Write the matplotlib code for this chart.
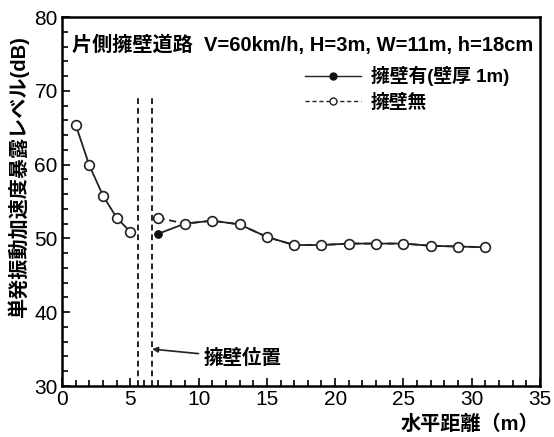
import numpy as np
import matplotlib
matplotlib.use('Agg')
import matplotlib.pyplot as plt
from matplotlib.ticker import MultipleLocator

plt.rcParams['font.family'] = ['Liberation Sans', 'Noto Sans CJK JP']

# data
x_left = [1, 2, 3, 4, 5]
y_left = [65.4, 59.9, 55.8, 52.8, 50.9]

x_right = [7, 9, 11, 13, 15, 17, 19, 21, 23, 25, 27, 29, 31]
y_wall = [50.6, 52.0, 52.4, 51.9, 50.2, 49.1, 49.1, 49.3, 49.3, 49.3, 49.0, 48.9, 48.8]
y_nowall = [52.8, 52.0, 52.4, 51.9, 50.2, 49.1, 49.1, 49.3, 49.3, 49.3, 49.0, 48.9, 48.8]

wall_edges = [5.6, 6.6]
wall_label_pos = (10.4, 33.8)
wall_arrow_pos = (6.6, 35.0)

title_text = '片側擁壁道路  V=60km/h, H=3m, W=11m, h=18cm'

W, H = 554, 437
fig = plt.figure(figsize=(W / 100, H / 100), dpi=100)
ax = fig.add_axes([62 / W, 1 - 386 / H, (540 - 62) / W, (386 - 17) / H])

c = '#222222'
# wall present (solid, filled dot)
ax.plot(x_left, y_left, '-', color=c, lw=1.3, zorder=3)
ax.plot(x_right, y_wall, '-', color=c, lw=1.3, marker='o', ms=5,
        mfc='#111111', mec='#111111', zorder=3)
# no wall (dashed, open circle)
ax.plot(x_left, y_left, 'o', ms=7, mfc='white', mec=c, mew=1.2, zorder=4)
ax.plot(x_right, y_nowall, '--', color=c, lw=1.3, marker='o', ms=7,
        mfc='white', mec=c, mew=1.2, zorder=4, dashes=(4, 2.5))
ax.plot(x_right[0], y_wall[0], 'o', ms=5, color='#111111', zorder=5)

# legend handles
h1, = ax.plot([], [], '-', color=c, lw=1.0, marker='o', ms=5,
              mfc='#111111', mec='#111111')
h2, = ax.plot([], [], '--', color=c, lw=1.0, marker='o', ms=5,
              mfc='white', mec=c, dashes=(3, 2))

for xe in wall_edges:
    ax.plot([xe, xe], [30, 69], color=c, lw=1.4, ls=(0, (3, 2)), zorder=2)

ax.annotate('擁壁位置', xy=wall_arrow_pos, xytext=wall_label_pos,
            fontsize=14, fontweight='bold', va='center', ha='left',
            arrowprops=dict(arrowstyle='-|>', color=c, lw=1.2,
                            mutation_scale=8, shrinkA=2, shrinkB=0))

fig.text(72 / W, 1 - 45 / H, title_text, fontsize=14.5, fontweight='bold',
         va='center', ha='left')

ax.set_xlim(0, 35)
ax.set_ylim(30, 80)
ax.xaxis.set_major_locator(MultipleLocator(5))
ax.xaxis.set_minor_locator(MultipleLocator(1))
ax.yaxis.set_major_locator(MultipleLocator(10))
ax.yaxis.set_minor_locator(MultipleLocator(2))
ax.tick_params(which='both', direction='in', top=False, right=False,
               labelsize=15, width=1.2)
ax.tick_params(which='major', length=6, pad=3)
ax.tick_params(which='minor', length=4)
for sp in ax.spines.values():
    sp.set_linewidth(1.8)

fig.text(18 / W, 1 - 177 / H, '単発振動加速度暴露レベル(dB)', fontsize=14.5,
         fontweight='bold', rotation=90, va='center', ha='center')
fig.text(470 / W, 1 - 424 / H, '水平距離（m）', fontsize=14.5,
         fontweight='bold', va='center', ha='center')

leg = fig.legend([h1, h2], ['擁壁有(壁厚 1m)', '擁壁無'], loc='upper left',
                 bbox_to_anchor=(305 / W, 1 - 66 / H), frameon=False,
                 fontsize=13.5, handlelength=3.0, handletextpad=0.5,
                 labelspacing=0.4, borderpad=0, borderaxespad=0)
for t in leg.get_texts():
    t.set_fontweight('bold')

fig.savefig('out.png', dpi=100)
